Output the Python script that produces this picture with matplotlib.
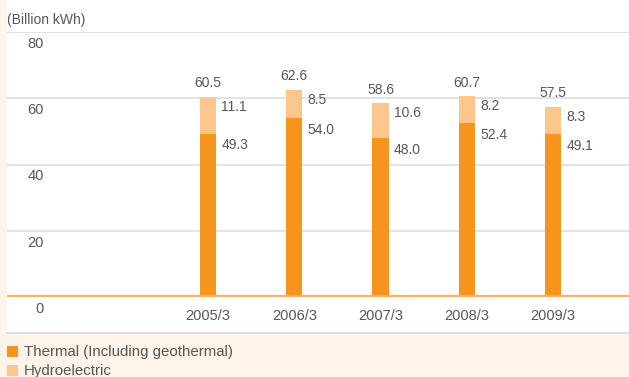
import numpy as np
import matplotlib.pyplot as plt
from matplotlib.patches import Rectangle

plt.rcParams['font.family'] = ['Liberation Sans', 'DejaVu Sans']

years = ["2005/3", "2006/3", "2007/3", "2008/3", "2009/3"]
thermal = [49.3, 54.0, 48.0, 52.4, 49.1]
hydro = [11.1, 8.5, 10.6, 8.2, 8.3]
totals = [60.5, 62.6, 58.6, 60.7, 57.5]
yticks = [0, 20, 40, 60, 80]

thermal_color = "#F7941D"
hydro_color = "#FDC68A"
text_color = "#575757"
W, H = 629, 377

fig = plt.figure(figsize=(W / 100, H / 100), dpi=100, facecolor="#FEF4E9")

# white panel behind the chart, with a thin rule at its bottom
fig.patches.append(Rectangle((7 / W, (H - 333) / H), 1 - 7 / W, 333 / H,
                             transform=fig.transFigure, facecolor="white",
                             edgecolor="none", zorder=-5))
fig.add_artist(plt.Line2D([7 / W, 1], [(H - 333) / H] * 2, color="#D9DAE0",
                          lw=1.2, transform=fig.transFigure))

ax = fig.add_axes([7 / W, (H - 297) / H, 1 - 7 / W, (297 - 32) / H])
ax.set_facecolor("none")
for s in ax.spines.values():
    s.set_visible(False)

x = np.arange(len(years))
ax.set_xlim(-2.33, 4.88)
ax.set_ylim(0, 80)

for v in yticks[1:]:
    ax.axhline(v, color="#DEDEDE", lw=1.2, zorder=1)
ax.axhline(0, color="#FBAF62", lw=3, zorder=3)

bw = 0.19
ax.bar(x, thermal, bw, color=thermal_color, zorder=2)
ax.bar(x, hydro, bw, bottom=thermal, color=hydro_color, zorder=2)

for i in range(len(years)):
    ax.text(x[i], totals[i] + 1.9, f"{totals[i]:.1f}", ha="center", va="bottom",
            fontsize=10, color=text_color)
    ax.text(x[i] + bw / 2 + 0.06, totals[i] - 0.9, f"{hydro[i]:.1f}", ha="left",
            va="top", fontsize=10, color=text_color)
    ax.text(x[i] + bw / 2 + 0.06, thermal[i] - 1.4, f"{thermal[i]:.1f}", ha="left",
            va="top", fontsize=10, color=text_color)

# y labels sit just under their grid lines
for v in yticks:
    ax.annotate(str(v), xy=(0, v), xycoords=("axes fraction", "data"),
                xytext=(37, -5), textcoords="offset pixels", ha="right", va="top",
                fontsize=10.5, color=text_color)

ax.set_yticks([])
ax.set_xticks(x)
ax.set_xticklabels(years, fontsize=10.5, color=text_color)
ax.tick_params(axis="x", length=0, pad=9)

fig.text(7 / W, 1 - 20 / H, "(Billion kWh)", ha="left", va="center",
         fontsize=10, color=text_color)

# legend squares and labels
for j, (lab, c) in enumerate([("Thermal (Including geothermal)", thermal_color),
                              ("Hydroelectric", hydro_color)]):
    yc = 351 + j * 19
    fig.patches.append(Rectangle((7 / W, 1 - (yc + 5.5) / H), 11 / W, 11 / H,
                                 transform=fig.transFigure, facecolor=c,
                                 edgecolor="none"))
    fig.text(24 / W, 1 - (yc + 1) / H, lab, ha="left", va="center", fontsize=10.8,
             color=text_color)

fig.savefig("out.png", dpi=100, facecolor=fig.get_facecolor())
